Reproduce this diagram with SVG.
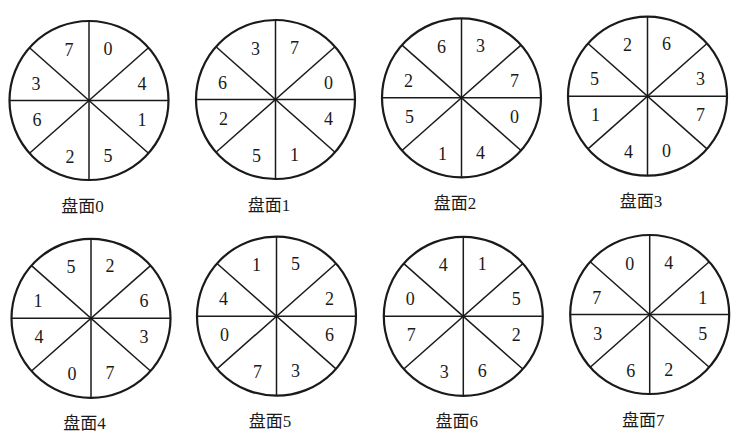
<svg xmlns="http://www.w3.org/2000/svg" xmlns:xlink="http://www.w3.org/1999/xlink" width="750" height="444" viewBox="0 0 750 444">
<style>
.rim{fill:none;stroke:#1a1a1a;stroke-width:2.2}
.div{stroke:#1a1a1a;stroke-width:1.5}
.n{font-family:"Liberation Serif","Times New Roman",serif;font-size:18px;fill:#1a1a1a;text-anchor:middle}
.lb{font-family:"Liberation Serif","Noto Sans CJK SC",serif;font-size:17px;fill:#1a1a1a;text-anchor:middle}
</style>
<defs>
<g id="disk">
<circle class="rim" cx="0" cy="0" r="79.5"/>
<line class="div" x1="0" y1="-79.5" x2="0" y2="79.5"/>
<line class="div" x1="-79.5" y1="0" x2="79.5" y2="0"/>
<line class="div" x1="-59.5" y1="-52.7" x2="59.5" y2="52.7"/>
<line class="div" x1="-59.5" y1="52.7" x2="59.5" y2="-52.7"/>
</g>
</defs>
<rect width="750" height="444" fill="#ffffff"/>
<g id="disk0" transform="translate(89,100.5)">
<use xlink:href="#disk"/>
<text class="n" x="-20" y="-45">7</text><text class="n" x="19" y="-46">0</text><text class="n" x="53" y="-11">4</text><text class="n" x="53" y="25">1</text><text class="n" x="19" y="61">5</text><text class="n" x="-19" y="62">2</text><text class="n" x="-52" y="25">6</text><text class="n" x="-53" y="-11">3</text>
<text class="lb" x="-6.5" y="111">盘面0</text>
</g>
<g id="disk1" transform="translate(275.5,99.5)">
<use xlink:href="#disk"/>
<text class="n" x="-20" y="-45">3</text><text class="n" x="19" y="-46">7</text><text class="n" x="53" y="-11">0</text><text class="n" x="53" y="25">4</text><text class="n" x="19" y="61">1</text><text class="n" x="-19" y="62">5</text><text class="n" x="-52" y="25">2</text><text class="n" x="-53" y="-11">6</text>
<text class="lb" x="-6.5" y="111">盘面1</text>
</g>
<g id="disk2" transform="translate(461.5,97.8)">
<use xlink:href="#disk"/>
<text class="n" x="-20" y="-45">6</text><text class="n" x="19" y="-46">3</text><text class="n" x="53" y="-11">7</text><text class="n" x="53" y="25">0</text><text class="n" x="19" y="61">4</text><text class="n" x="-19" y="62">1</text><text class="n" x="-52" y="25">5</text><text class="n" x="-53" y="-11">2</text>
<text class="lb" x="-6.5" y="111">盘面2</text>
</g>
<g id="disk3" transform="translate(647.5,96.2)">
<use xlink:href="#disk"/>
<text class="n" x="-20" y="-45">2</text><text class="n" x="19" y="-46">6</text><text class="n" x="53" y="-11">3</text><text class="n" x="53" y="25">7</text><text class="n" x="19" y="61">0</text><text class="n" x="-19" y="62">4</text><text class="n" x="-52" y="25">1</text><text class="n" x="-53" y="-11">5</text>
<text class="lb" x="-6.5" y="111">盘面3</text>
</g>
<g id="disk4" transform="translate(91,318.3)">
<use xlink:href="#disk"/>
<text class="n" x="-20" y="-45">5</text><text class="n" x="19" y="-46">2</text><text class="n" x="53" y="-11">6</text><text class="n" x="53" y="25">3</text><text class="n" x="19" y="61">7</text><text class="n" x="-19" y="62">0</text><text class="n" x="-52" y="25">4</text><text class="n" x="-53" y="-11">1</text>
<text class="lb" x="-6.5" y="111">盘面4</text>
</g>
<g id="disk5" transform="translate(276.5,316.2)">
<use xlink:href="#disk"/>
<text class="n" x="-20" y="-45">1</text><text class="n" x="19" y="-46">5</text><text class="n" x="53" y="-11">2</text><text class="n" x="53" y="25">6</text><text class="n" x="19" y="61">3</text><text class="n" x="-19" y="62">7</text><text class="n" x="-52" y="25">0</text><text class="n" x="-53" y="-11">4</text>
<text class="lb" x="-6.5" y="111">盘面5</text>
</g>
<g id="disk6" transform="translate(463.3,316.3)">
<use xlink:href="#disk"/>
<text class="n" x="-20" y="-45">4</text><text class="n" x="19" y="-46">1</text><text class="n" x="53" y="-11">5</text><text class="n" x="53" y="25">2</text><text class="n" x="19" y="61">6</text><text class="n" x="-19" y="62">3</text><text class="n" x="-52" y="25">7</text><text class="n" x="-53" y="-11">0</text>
<text class="lb" x="-6.5" y="111">盘面6</text>
</g>
<g id="disk7" transform="translate(649.7,314.5)">
<use xlink:href="#disk"/>
<text class="n" x="-20" y="-45">0</text><text class="n" x="19" y="-46">4</text><text class="n" x="53" y="-11">1</text><text class="n" x="53" y="25">5</text><text class="n" x="19" y="61">2</text><text class="n" x="-19" y="62">6</text><text class="n" x="-52" y="25">3</text><text class="n" x="-53" y="-11">7</text>
<text class="lb" x="-6.5" y="111">盘面7</text>
</g>
<g id="connectors"/>
</svg>
